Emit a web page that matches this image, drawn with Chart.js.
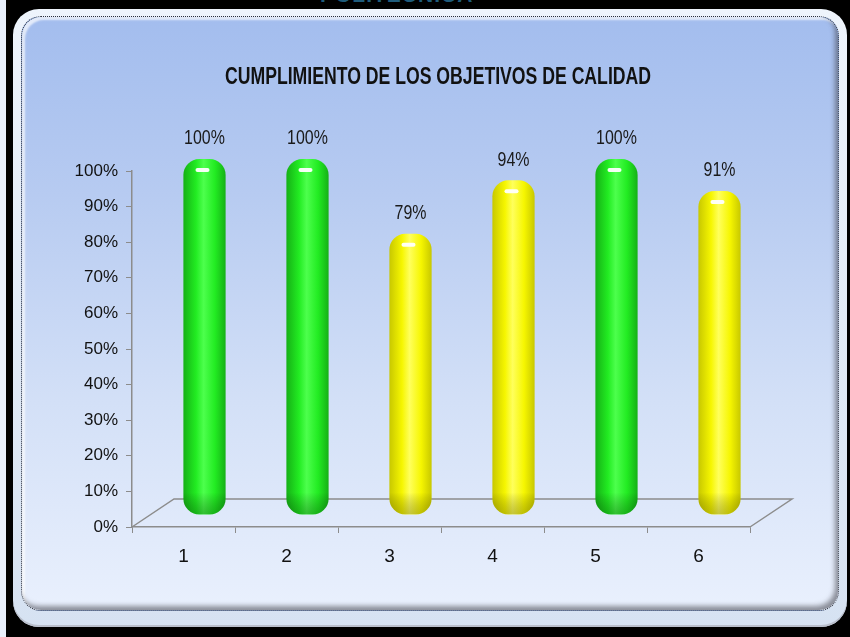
<!DOCTYPE html>
<html><head><meta charset="utf-8">
<script src="https://cdn.jsdelivr.net/npm/chart.js@4.4.1/dist/chart.umd.min.js"></script>
<style>
html,body{margin:0;padding:0;width:850px;height:637px;overflow:hidden;background:#000;}
#strip{position:absolute;left:0;top:0;width:6px;height:637px;background:#e9f0fb;}
#toptext{position:absolute;left:320px;top:-17px;font:bold 21px 'Liberation Sans',Arial,sans-serif;color:#1f5c7c;letter-spacing:1px;}
#outer{position:absolute;left:13px;top:9px;width:834px;height:618px;border-radius:26px;background:linear-gradient(#eef4fc,#d6e2f2);box-shadow:inset 0 -2px 0 #b9bfcc;}
#inner{position:absolute;left:21px;top:16px;width:816px;height:593px;border-radius:20px;border:1px dotted #2a2f3a;background:linear-gradient(to bottom,#a3bdee 0%,#b7cbf1 30%,#d3e0f7 65%,#e9f0fd 100%);box-shadow:inset -3px -4px 5px rgba(60,60,70,0.55), inset 3px 3px 2px rgba(255,255,255,0.7);}
canvas{position:absolute;left:0;top:0;}
</style></head>
<body>
<div id="strip"></div>
<div id="outer"></div>
<div id="inner"></div>
<div id="toptext">POLITECNICA</div>
<canvas id="c" width="850" height="637"></canvas>
<script>
const categories = ['1','2','3','4','5','6'];
const cumplimiento = [100, 100, 79, 94, 100, 91];
const yTickValues = [0, 10, 20, 30, 40, 50, 60, 70, 80, 90, 100];
const chartTitle = 'CUMPLIMIENTO DE LOS OBJETIVOS DE CALIDAD';
const objetivo = 100;

const FONT = "'Liberation Sans',Arial,sans-serif";
const DEPTH_X = 42, DEPTH_Y = 28;
const BAR_DX = 21, BAR_DY = 12;
const BAR_PCT = 0.41;

const palettes = {
  green:  {edge:'#16b016', mid:'#22ec22', light:'#4dff4d', shade:'rgba(0,70,0,0.35)'},
  yellow: {edge:'#c8c800', mid:'#f6f600', light:'#ffff5c', shade:'rgba(90,90,0,0.35)'}
};
function paletteFor(v){ return v >= objetivo ? palettes.green : palettes.yellow; }

function barFill(ctx){
  const chart = ctx.chart;
  const p = paletteFor(cumplimiento[ctx.dataIndex]);
  const xs = chart.scales.x;
  if (!chart.chartArea || !xs || !xs.width) return p.mid;
  const cx = xs.getPixelForValue(ctx.dataIndex);
  const w = xs.width / categories.length * BAR_PCT;
  const g = chart.ctx.createLinearGradient(cx - w/2, 0, cx + w/2, 0);
  g.addColorStop(0, p.edge);
  g.addColorStop(0.3, p.mid);
  g.addColorStop(0.48, p.light);
  g.addColorStop(0.75, p.mid);
  g.addColorStop(1, p.edge);
  return g;
}

function narrowText(ctx, text, x, y, sx){
  ctx.save();
  ctx.translate(x, y);
  ctx.scale(sx, 1);
  ctx.fillText(text, 0, 0);
  ctx.restore();
}

const depthPlugin = {
  id: 'depth',
  beforeDatasetsDraw(chart){
    const {ctx, chartArea: a} = chart;
    ctx.save();
    ctx.strokeStyle = '#8c8c8c';
    ctx.lineWidth = 1.5;
    ctx.beginPath();
    ctx.moveTo(a.left, a.bottom);
    ctx.lineTo(a.left + DEPTH_X, a.bottom - DEPTH_Y);
    ctx.lineTo(a.right + DEPTH_X, a.bottom - DEPTH_Y);
    ctx.lineTo(a.right, a.bottom);
    ctx.stroke();
    ctx.restore();
    ctx.save();
    ctx.translate(BAR_DX, -BAR_DY);
  },
  afterDatasetsDraw(chart){
    const ctx = chart.ctx;
    ctx.restore();
    const meta = chart.getDatasetMeta(0);
    ctx.save();
    ctx.translate(BAR_DX, -BAR_DY);
    meta.data.forEach((bar, i) => {
      const {x, y, base, width} = bar.getProps(['x','y','base','width'], true);
      const p = paletteFor(cumplimiento[i]);
      ctx.save();
      ctx.beginPath();
      ctx.roundRect(x - width/2, y, width, base - y, 16);
      ctx.clip();
      const g = ctx.createLinearGradient(0, base - 22, 0, base);
      g.addColorStop(0, 'rgba(0,0,0,0)');
      g.addColorStop(1, p.shade);
      ctx.fillStyle = g;
      ctx.fillRect(x - width/2, base - 22, width, 22);
      ctx.restore();
      ctx.fillStyle = 'rgba(255,255,255,0.95)';
      ctx.beginPath();
      ctx.roundRect(x - 9, y + 9, 14, 4, 2);
      ctx.fill();
      ctx.fillStyle = '#1a1a1a';
      ctx.font = '21px ' + FONT;
      ctx.textAlign = 'center';
      ctx.textBaseline = 'bottom';
      narrowText(ctx, cumplimiento[i] + '%', x, y - 10, 0.76);
    });
    ctx.restore();
  },
  afterDraw(chart){
    const ctx = chart.ctx;
    ctx.save();
    ctx.fillStyle = '#111';
    ctx.font = 'bold 24px ' + FONT;
    ctx.textAlign = 'center';
    ctx.textBaseline = 'middle';
    narrowText(ctx, chartTitle, 438, 77, 0.735);
    ctx.restore();
  }
};

new Chart(document.getElementById('c'), {
  type: 'bar',
  data: {
    labels: categories,
    datasets: [{
      data: cumplimiento,
      backgroundColor: barFill,
      borderWidth: 0,
      borderRadius: 16,
      borderSkipped: false,
      barPercentage: BAR_PCT,
      categoryPercentage: 1,
      clip: false
    }]
  },
  options: {
    responsive: false,
    animation: false,
    devicePixelRatio: 1,
    layout: {padding: {left: 0, right: 100, top: 171, bottom: 60}},
    plugins: {
      legend: {display: false},
      tooltip: {enabled: false},
      title: {display: false}
    },
    scales: {
      x: {
        grid: {drawOnChartArea: false, tickLength: 6, color: '#8c8c8c', offset: true},
        border: {color: '#8c8c8c', width: 1.5},
        ticks: {color: '#111', font: {family: FONT, size: 19}, padding: 12},
        afterFit(s){ s.height = 50; }
      },
      y: {
        min: 0, max: 100,
        afterBuildTicks(s){ s.ticks = yTickValues.map(v => ({value: v})); },
        grid: {drawOnChartArea: false, tickLength: 6, color: '#8c8c8c'},
        border: {color: '#8c8c8c', width: 1.5},
        ticks: {color: '#111', font: {family: FONT, size: 17}, padding: 8, callback: v => v + '%'},
        afterFit(s){ s.width = 132; }
      }
    }
  },
  plugins: [depthPlugin]
});
</script>
</body></html>
